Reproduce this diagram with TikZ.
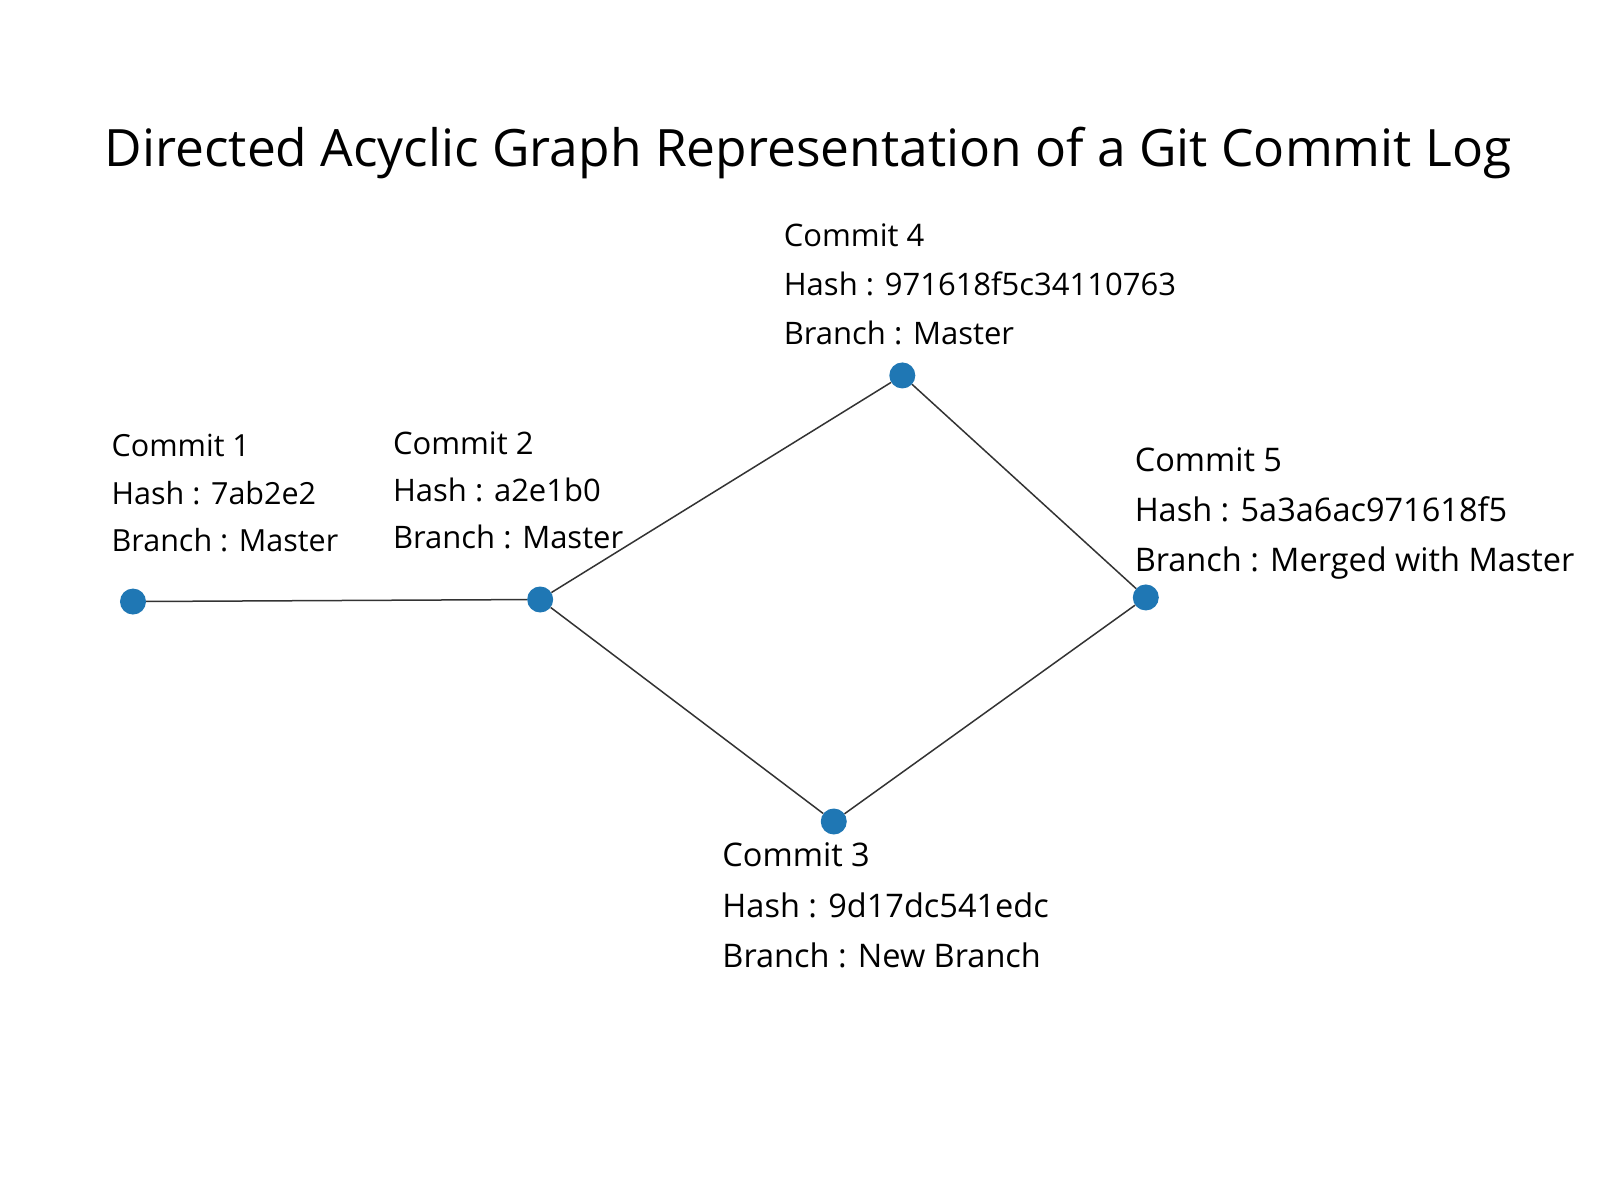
\documentclass[tikz,border=0pt]{standalone}
\usepackage{fontspec}
\setmainfont{Open Sans}
\definecolor{dotblue}{HTML}{1F77B4}
\begin{document}
\begin{tikzpicture}[x=1.023pt,y=-1.023pt,
  commit/.style={circle,fill=dotblue,draw=none,minimum size=26pt,inner sep=0pt},
  edge/.style={draw=black!80,line width=1.5pt},
  lbl/.style={anchor=west,align=left,inner sep=0pt,font=\fontsize{30.5}{47.1}\selectfont}]
\useasboundingbox[fill=white] (0,0) rectangle (1563,1173);
\node[font=\fontsize{51.5}{60}\selectfont,inner sep=0pt] (title) at (790,150) {Directed Acyclic Graph Representation of a Git Commit Log};
\node[commit] (c1) at (130,588) {};
\node[commit] (c2) at (528,586) {};
\node[commit] (c4) at (882,367) {};
\node[commit] (c5) at (1120,584) {};
\node[commit] (c3) at (815,803) {};
\draw[edge] (c1) -- (c2);
\draw[edge] (c2) -- (c4);
\draw[edge] (c2) -- (c3);
\draw[edge] (c4) -- (c5);
\draw[edge] (c3) -- (c5);
\node[lbl] (l1) at (109,482) {Commit 1\\Hash : 7ab2e2\\Branch : Master};
\node[lbl,font=\fontsize{31}{47.1}\selectfont] (l2) at (384,479) {Commit 2\\Hash : a2e1b0\\Branch : Master};
\node[lbl,font=\fontsize{31}{48.6}\selectfont] (l4) at (766,278) {Commit 4\\Hash : 971618f5c34110763\\Branch : Master};
\node[lbl,font=\fontsize{32.5}{49.6}\selectfont] (l5) at (1109,502) {Commit 5\\Hash : 5a3a6ac971618f5\\Branch : Merged with Master};
\node[lbl,font=\fontsize{32.5}{50.2}\selectfont] (l3) at (706,885) {Commit 3\\Hash : 9d17dc541edc\\Branch : New Branch};
\end{tikzpicture}
\end{document}
